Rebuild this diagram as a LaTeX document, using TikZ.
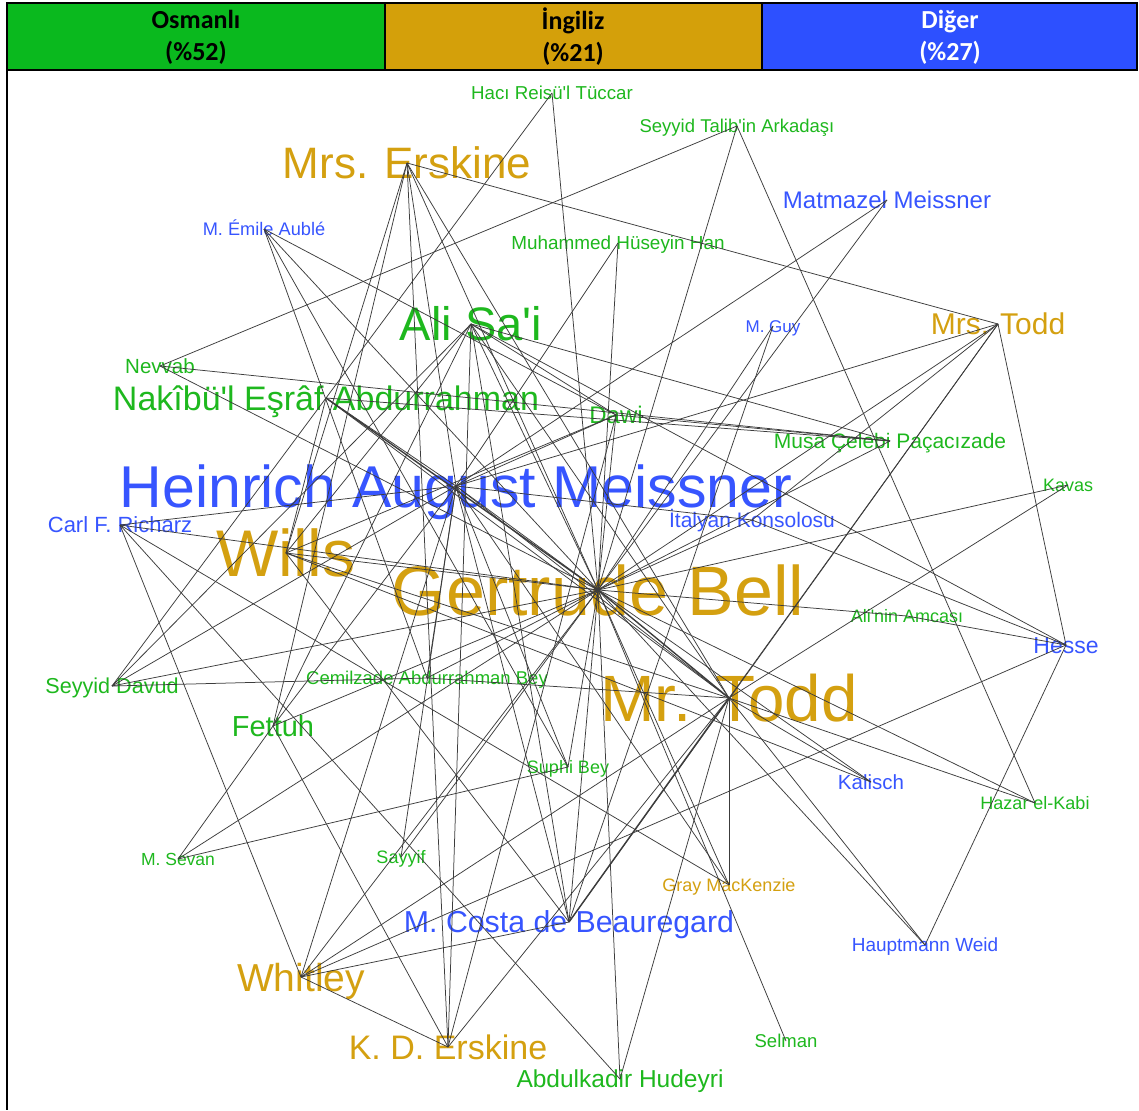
\documentclass[tikz,border=0pt]{standalone}
\usepackage{fontspec}
\setmainfont{Liberation Sans}
\newfontfamily\hdrfont{Carlito}
\definecolor{og}{RGB}{30,184,30}
\definecolor{ig}{RGB}{212,160,16}
\definecolor{dg}{RGB}{55,85,255}
\definecolor{hgreen}{RGB}{10,185,30}
\definecolor{hgold}{RGB}{212,160,10}
\definecolor{hblue}{RGB}{45,80,255}
\definecolor{edgecol}{RGB}{60,60,60}
\newcommand{\ap}{\textquotesingle}
\tikzset{
  lab/.style n args={3}{inner sep=0pt, text=#1, font=\fontsize{#2}{#2}\selectfont, text height=#3, text depth=0pt},
  G/.style 2 args={lab={og}{#1}{#2}},
  O/.style 2 args={lab={ig}{#1}{#2}},
  B/.style 2 args={lab={dg}{#1}{#2}},
  edge/.style={draw=edgecol, line width=0.75pt},
  heavy/.style={draw=edgecol, line width=1.4pt},
  hdr/.style={align=center, font=\hdrfont\bfseries\fontsize{26}{32}\selectfont, inner sep=0pt}
}
\begin{document}
\begin{tikzpicture}[x=1pt,y=-1pt]
\useasboundingbox (0,0) rectangle (1139,1110);
\fill[white] (0,0) rectangle (1139,1110);
% header
\fill[hgreen] (7,3) rectangle (385,70);
\fill[hgold] (385,3) rectangle (762,70);
\fill[hblue] (762,3) rectangle (1137,70);
\draw[line width=2pt] (7,3) rectangle (1137,70);
\draw[line width=2pt] (385,3) -- (385,70);
\draw[line width=2pt] (762,3) -- (762,70);
\draw[line width=2pt] (7,3) -- (7,1110);
\node[hdr, text=black] (hosm) at (196,37) {Osmanlı\\(\%52)};
\node[hdr, text=black] (hing) at (573,37) {İngiliz\\(\%21)};
\node[hdr, text=white] (hdig) at (950,37) {Diğer\\(\%27)};
% nodes
\node[G={18.7}{13.5pt}] (haci) at (552,93) {Hacı Reisü\ap l Tüccar};
\node[G={18.5}{13.3pt}] (talib) at (737,126) {Seyyid Talib\ap in Arkadaşı};
\node[O={44}{31.7pt}] (mrsE) at (407,163) {Mrs. Erskine};
\node[B={24}{17.3pt}] (matm) at (887,200) {Matmazel Meissner};
\node[B={18.2}{13.1pt}] (auble) at (264,229) {M. Émile Aublé};
\node[G={18.9}{13.6pt}] (muh) at (618,243) {Muhammed Hüseyin Han};
\node[G={47}{33.8pt}] (ali) at (471,324) {Ali Sa\ap i};
\node[B={17}{12.2pt}] (guy) at (773,326) {M. Guy};
\node[O={30}{21.6pt}] (mrsT) at (998,324) {Mrs. Todd};
\node[G={20.5}{14.8pt}] (nevvab) at (160,366) {Nevvab};
\node[G={34}{24.5pt}] (nakib) at (326,398) {Nakîbü\ap l Eşrâf Abdurrahman};
\node[G={24}{17.3pt}] (dawi) at (616,415) {Dawi};
\node[G={21}{15.1pt}] (musa) at (890,441) {Musa Çelebi Paçacızade};
\node[B={59}{42.5pt}] (ham) at (456,486) {Heinrich August Meissner};
\node[G={18}{13pt}] (kavas) at (1068,485) {Kavas};
\node[B={22}{15.8pt}] (carl) at (120,525) {Carl F. Richarz};
\node[B={21}{15.1pt}] (ital) at (752,520) {İtalyan Konsolosu};
\node[O={66}{47.5pt}] (wills) at (286,553) {Wills};
\node[O={70}{50.4pt}] (gb) at (598,590) {Gertrude Bell};
\node[G={18}{13pt}] (amca) at (907,616) {Ali\ap nin Amcası};
\node[B={23}{16.6pt}] (hesse) at (1066,645) {Hesse};
\node[G={21.6}{15.5pt}] (davud) at (112,686) {Seyyid Davud};
\node[G={18.5}{13.3pt}] (cemil) at (427,678) {Cemilzade Abdurrahman Bey};
\node[O={65.5}{47.2pt}] (mrT) at (729,698) {Mr. Todd};
\node[G={29}{20.9pt}] (fettuh) at (273,726) {Fettuh};
\node[G={18}{13pt}] (suphi) at (568,767) {Suphi Bey};
\node[B={20.5}{14.8pt}] (kalisch) at (871,782) {Kalisch};
\node[G={18}{13pt}] (hazar) at (1035,803) {Hazar el-Kabi};
\node[G={17.5}{12.6pt}] (sevan) at (178,859) {M. Sevan};
\node[G={18}{13pt}] (sayyif) at (401,857) {Sayyif};
\node[O={18}{13pt}] (gray) at (729,885) {Gray MacKenzie};
\node[B={30.3}{21.8pt}] (costa) at (569,922) {M. Costa de Beauregard};
\node[B={19}{13.7pt}] (weid) at (925,945) {Hauptmann Weid};
\node[O={39}{28pt}] (whitley) at (301,977) {Whitley};
\node[G={18.5}{13.3pt}] (selman) at (786,1041) {Selman};
\node[O={34}{24.5pt}] (kde) at (448,1047) {K. D. Erskine};
\node[G={24.5}{17.6pt}] (abdul) at (620,1079) {Abdulkadir Hudeyri};
% edges
\foreach \a/\b in {
 haci/nakib, haci/gb,
 talib/nevvab, talib/gb, talib/hazar,
 mrsE/mrsT, mrsE/wills, mrsE/ham, mrsE/kde, mrsE/mrT, mrsE/gb, mrsE/fettuh,
 matm/ham, matm/gb,
 auble/dawi, auble/suphi, auble/gb, auble/cemil,
 muh/ham, muh/gb,
 ali/fettuh, ali/kde, ali/gb, ali/dawi, ali/musa, ali/hesse, ali/mrT, ali/davud, ali/wills, ali/costa,
 guy/gb, guy/costa,
 mrsT/ham, mrsT/ital, mrsT/gb, mrsT/mrT, mrsT/costa, mrsT/hesse,
 nevvab/musa, nevvab/gb,
 nakib/mrT, nakib/wills, nakib/davud, nakib/musa, nakib/ham,
 dawi/gb, dawi/ham, dawi/musa, dawi/wills, dawi/kde,
 musa/gb,
 ham/gb, ham/mrT, ham/carl, ham/davud, ham/fettuh, ham/whitley, ham/gray, ham/costa, ham/sayyif, ham/suphi,
 kavas/gb, kavas/mrT,
 carl/gb, carl/gray, carl/abdul, carl/whitley,
 ital/hesse, ital/gb, ital/ham,
 wills/gb, wills/mrT, wills/kalisch, wills/costa,
 gb/amca, gb/kalisch, gb/hazar, gb/weid, gb/selman, gb/gray, gb/davud, gb/fettuh, gb/sevan, gb/whitley, gb/abdul, gb/sayyif, gb/suphi, gb/costa, gb/cemil,
 amca/hesse, davud/cemil, cemil/mrT, cemil/ham,
 mrT/weid, mrT/hazar, mrT/kalisch, mrT/whitley, mrT/kde, mrT/abdul, mrT/gray,
 fettuh/sevan, fettuh/kde, sevan/suphi, weid/hesse,
 whitley/hesse, whitley/costa, whitley/kde}
 \draw[edge] (\a.center) -- (\b.center);
\draw[heavy] (gb.center) -- (mrT.center);
\draw[heavy] (costa.center) -- (mrT.center);
\draw[heavy] (nakib.center) -- (gb.center);
\end{tikzpicture}
\end{document}
